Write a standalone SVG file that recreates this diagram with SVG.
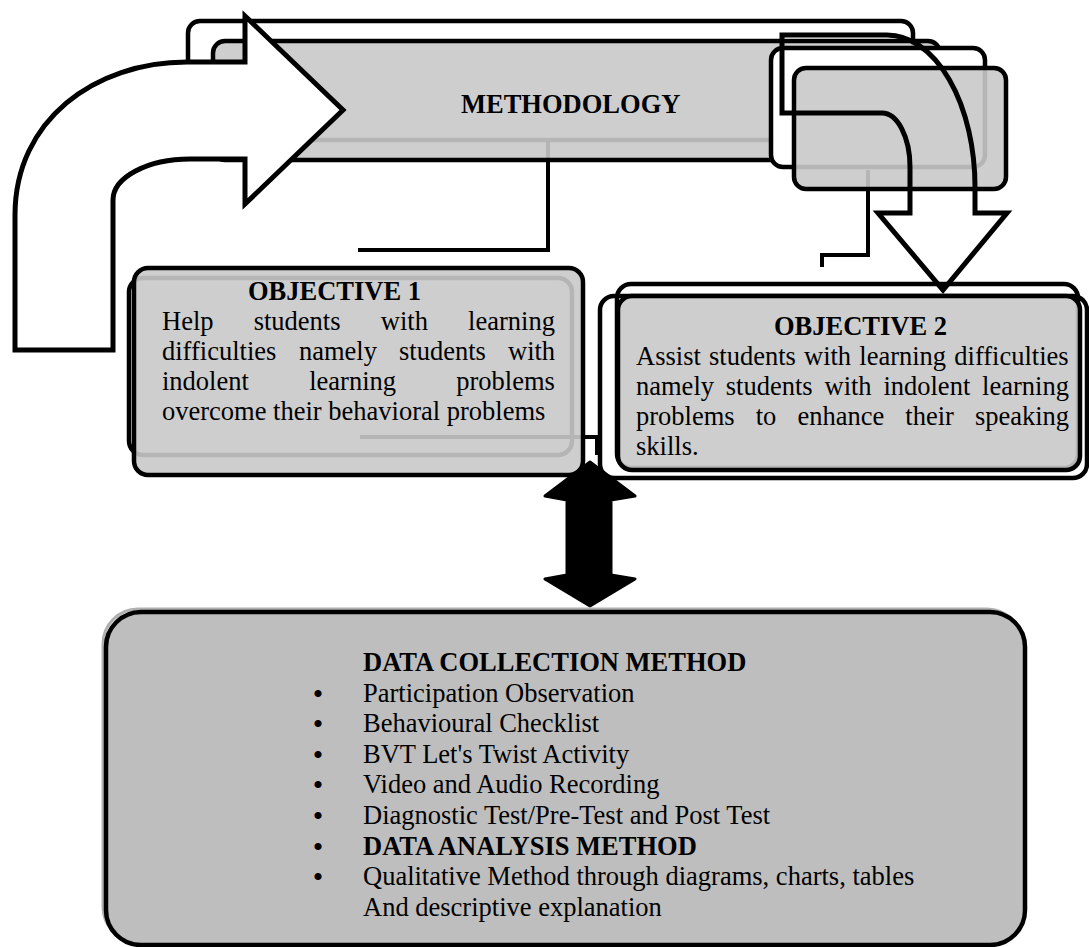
<svg xmlns="http://www.w3.org/2000/svg" width="1089" height="947" viewBox="0 0 1089 947">
<style>
.t{font-family:"Liberation Serif","Times New Roman",serif;font-size:26.5px;fill:#000}
.b{font-weight:bold}
.bul{font-family:"Liberation Serif","Times New Roman",serif;font-size:30px;fill:#000;text-anchor:middle}
.wbox{fill:#fff;stroke:#000;stroke-width:4.5}
.obox{fill:none;stroke:#000;stroke-width:4.5}
.gbox{fill:#c9c9c9;fill-opacity:0.9;stroke:#000;stroke-width:4.5}
.ln{fill:none;stroke:#000;stroke-width:4}
.arr{stroke:#000;stroke-width:5;stroke-linejoin:miter}
</style>
<rect width="1089" height="947" fill="#fff"/>

<g id="connectors">
  <path class="ln" d="M548,140 V250 H358"/>
  <path class="ln" d="M868,170 V255 H822 V267"/>
  <path class="ln" d="M360,437 H597 V455"/>
</g>

<g id="methodology">
  <rect class="obox" x="188" y="21" width="725" height="119" rx="12"/>
  <rect class="gbox" x="213" y="41" width="727" height="119" rx="12"/>
  <rect class="wbox" x="771" y="48" width="214" height="119" rx="12"/>
  <rect class="gbox" x="794" y="68" width="212" height="121" rx="12"/>
  <text class="t b" x="461" y="113">METHODOLOGY</text>
</g>

<g id="objective1">
  <rect class="obox" x="129" y="278" width="443" height="177" rx="14"/>
  <rect class="gbox" x="134" y="268" width="449" height="207" rx="14"/>
  <text class="t b" x="248" y="300">OBJECTIVE 1</text>
  <text class="t">
    <tspan x="162" y="330">Help</tspan><tspan x="253.7" y="330">students</tspan><tspan x="380.8" y="330">with</tspan><tspan x="468.1" y="330">learning</tspan>
    <tspan x="162" y="360">difficulties</tspan><tspan x="298.9" y="360">namely</tspan><tspan x="399" y="360">students</tspan><tspan x="508" y="360">with</tspan>
    <tspan x="162" y="390">indolent</tspan><tspan x="309.2" y="390">learning</tspan><tspan x="456.3" y="390">problems</tspan>
    <tspan x="162" y="420">overcome their behavioral problems</tspan>
  </text>
</g>

<g id="objective2">
  <rect class="wbox" x="600" y="296" width="487" height="182" rx="14"/>
  <rect class="obox" x="617" y="284" width="461" height="184" rx="14"/>
  <rect class="gbox" x="618" y="296" width="462" height="174" rx="14"/>
  <text class="t b" x="774" y="335">OBJECTIVE 2</text>
  <text class="t">
    <tspan x="636" y="365">Assist</tspan><tspan x="709" y="365">students</tspan><tspan x="804" y="365">with</tspan><tspan x="859.3" y="365">learning</tspan><tspan x="954.3" y="365">difficulties</tspan>
    <tspan x="636" y="395">namely</tspan><tspan x="725.8" y="395">students</tspan><tspan x="824.5" y="395">with</tspan><tspan x="883.4" y="395">indolent</tspan><tspan x="982.1" y="395">learning</tspan>
    <tspan x="636" y="425">problems</tspan><tspan x="755.7" y="425">to</tspan><tspan x="797.4" y="425">enhance</tspan><tspan x="905.3" y="425">their</tspan><tspan x="974.9" y="425">speaking</tspan>
    <tspan x="636" y="455">skills.</tspan>
  </text>
</g>

<g id="arrow-left">
  <path class="arr" fill="#fff" d="M15,350 V215 C15,120 95,62 187,62 H245 V16 L343,110 L245,204 V159 H190 A77,41 0 0 0 113,200 V350 Z"/>
</g>

<g id="arrow-right">
  <path class="arr" fill="none" d="M782,35 H887 A88,152 0 0 1 975,187 V213 H1007 L943,290 L878,213 H910 V167 A28,54 0 0 0 882,113 H782 Z"/>
</g>

<g id="arrow-double">
  <polygon points="590,462 635,496 611,500 611,575 635,579 590,606 545,579 567,575 567,500 545,496" fill="#000" stroke="#000" stroke-width="3" stroke-linejoin="round"/>
</g>

<g id="data-methods">
  <rect x="103" y="609" width="919" height="333" rx="35" fill="none" stroke="#b0b0b0" stroke-width="3"/>
  <rect x="106" y="612" width="919" height="333" rx="35" fill="#bebebe" stroke="#000" stroke-width="4.5"/>
  <text class="t b" x="363" y="671">DATA COLLECTION METHOD</text>
  <text class="bul" x="318" y="704">•</text>
  <text class="t" x="363" y="702">Participation Observation</text>
  <text class="bul" x="318" y="734">•</text>
  <text class="t" x="363" y="732">Behavioural Checklist</text>
  <text class="bul" x="318" y="765">•</text>
  <text class="t" x="363" y="763">BVT Let's Twist Activity</text>
  <text class="bul" x="318" y="795">•</text>
  <text class="t" x="363" y="793">Video and Audio Recording</text>
  <text class="bul" x="318" y="826">•</text>
  <text class="t" x="363" y="824">Diagnostic Test/Pre-Test and Post Test</text>
  <text class="bul" x="318" y="857">•</text>
  <text class="t b" x="363" y="855">DATA ANALYSIS METHOD</text>
  <text class="bul" x="318" y="887">•</text>
  <text class="t" x="363" y="885">Qualitative Method through diagrams, charts, tables</text>
  <text class="t" x="363" y="916">And descriptive explanation</text>
</g>
</svg>
